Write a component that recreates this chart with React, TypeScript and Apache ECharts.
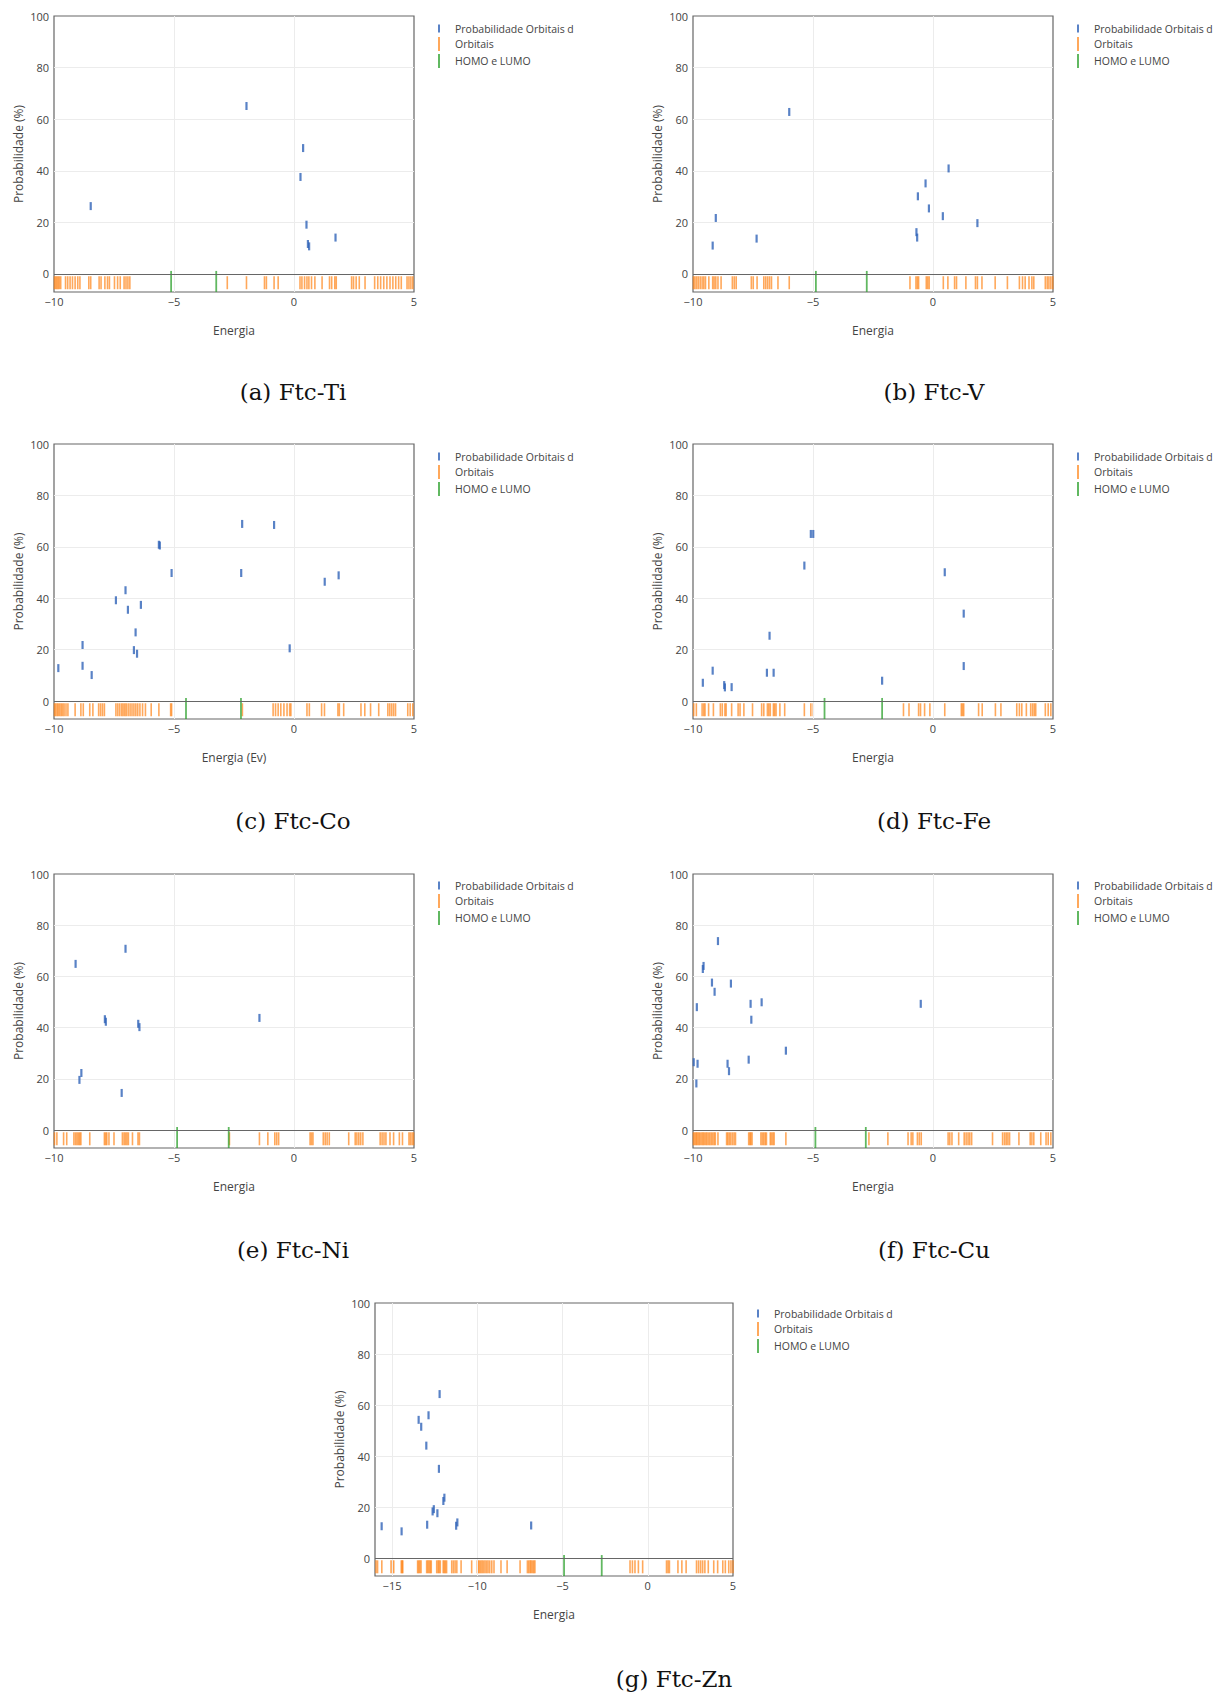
import React, { useEffect, useRef } from "react";
import * as echarts from "echarts";

// ---------- DATA ----------
const SERIES_D = "Probabilidade Orbitais d";
const SERIES_ORB = "Orbitais";
const SERIES_HL = "HOMO e LUMO";

const captions = ["(a) Ftc-Ti", "(b) Ftc-V", "(c) Ftc-Co", "(d) Ftc-Fe", "(e) Ftc-Ni", "(f) Ftc-Cu", "(g) Ftc-Zn"];
const xTitles = ["Energia", "Energia", "Energia (Ev)", "Energia", "Energia", "Energia", "Energia"];
const yTitle = "Probabilidade (%)";
const yTicks = [0, 20, 40, 60, 80, 100];
const xTicksStd = [-10, -5, 0, 5];
const xTicksZn = [-15, -10, -5, 0, 5];

// (a) Ti
const tiDx = [-8.47, -1.98, 0.38, 0.27, 0.52, 0.58, 0.63, 1.73];
const tiDy = [26.3, 65.1, 48.8, 37.6, 19.1, 11.6, 10.7, 14.1];
const tiOrb = [-9.98, -9.93, -9.88, -9.83, -9.78, -9.72, -9.52, -9.43, -9.33, -9.23, -9.12, -9.01, -8.92, -8.55, -8.47,
  -8.12, -8.04, -7.88, -7.77, -7.69, -7.48, -7.35, -7.24, -7.08, -7.0, -6.92, -6.84, -2.78, -1.98, -1.23, -1.15, -0.83, -0.66,
  0.25, 0.33, 0.44, 0.54, 0.62, 0.73, 0.87, 1.17, 1.48, 1.57, 1.7, 1.76, 2.4, 2.48, 2.59, 2.72, 2.96,
  3.36, 3.49, 3.61, 3.74, 3.87, 4.0, 4.12, 4.24, 4.36, 4.47, 4.71, 4.79, 4.87, 4.95];
const tiHL = [-5.12, -3.24];

// (b) V
const vDx = [-9.18, -9.05, -7.35, -5.99, -0.69, -0.66, -0.63, -0.31, -0.17, 0.41, 0.65, 1.85];
const vDy = [11.0, 21.7, 13.7, 62.8, 16.2, 14.1, 30.1, 35.1, 25.4, 22.4, 40.9, 19.7];
const vOrb = [-9.98, -9.92, -9.85, -9.78, -9.7, -9.62, -9.55, -9.48, -9.34, -9.18, -9.12, -9.05, -8.96, -8.83,
  -8.36, -8.28, -8.2, -7.57, -7.49, -7.33, -7.05, -6.97, -6.89, -6.81, -6.73, -6.46, -5.99,
  -0.96, -0.71, -0.65, -0.6, -0.28, -0.22, -0.16, 0.43, 0.62, 0.9, 0.98, 1.37, 1.77, 1.85, 2.04, 2.59, 3.1,
  3.6, 3.73, 3.84, 4.0, 4.12, 4.2, 4.68, 4.76, 4.83, 4.91, 4.99];
const vHL = [-4.88, -2.76];

// (c) Co
const coDx = [-9.82, -8.81, -8.81, -8.43, -7.42, -7.02, -6.92, -6.6, -6.67, -6.54, -6.38, -5.63, -5.59, -5.1, -2.16, -2.2, -0.83, -0.18, 1.28, 1.86];
const coDy = [12.8, 21.8, 13.7, 10.1, 39.2, 43.1, 35.5, 26.7, 19.8, 18.4, 37.4, 60.8, 60.5, 49.8, 68.9, 49.8, 68.5, 20.5, 46.4, 48.9];
const coOrb = [-9.98, -9.93, -9.87, -9.82, -9.76, -9.7, -9.64, -9.58, -9.5, -9.42, -9.12, -8.88, -8.78, -8.51, -8.38,
  -8.14, -8.06, -7.98, -7.9, -7.42, -7.34, -7.26, -7.18, -7.12, -7.05, -6.99, -6.91, -6.83, -6.75, -6.67, -6.59, -6.51,
  -6.42, -6.31, -6.19, -5.95, -5.63, -5.14, -5.1, -2.15, -0.87, -0.77, -0.66, -0.55, -0.42, -0.29, -0.18, -0.13,
  0.54, 0.64, 1.15, 1.27, 1.83, 1.89, 2.07, 2.79, 2.95, 3.19, 3.53, 3.91, 3.99, 4.07, 4.15, 4.23, 4.74, 4.84, 4.95];
const coHL = [-4.5, -2.21];

// (d) Fe
const feDx = [-9.59, -9.18, -8.7, -8.67, -8.39, -6.92, -6.64, -6.81, -5.36, -5.09, -4.99, -2.12, 0.49, 1.28, 1.28];
const feDy = [7.1, 11.8, 6.2, 5.3, 5.4, 11.0, 11.0, 25.4, 52.7, 65.0, 65.0, 7.9, 50.1, 34.0, 13.6];
const feOrb = [-9.97, -9.86, -9.62, -9.55, -9.5, -9.35, -9.15, -8.86, -8.78, -8.67, -8.62, -8.39, -8.12, -8.04, -7.88,
  -7.52, -7.14, -7.05, -6.9, -6.84, -6.78, -6.65, -6.6, -6.54, -6.38, -6.18, -5.36, -5.09, -4.99, -1.23, -1.0, -0.6,
  -0.52, -0.35, -0.13, 0.49, 1.18, 1.23, 1.28, 1.9, 2.05, 2.6, 2.83, 3.49, 3.6, 3.7, 3.89, 4.07, 4.15, 4.22, 4.28,
  4.68, 4.8, 4.91];
const feHL = [-4.52, -2.12];

// (e) Ni
const niDx = [-9.1, -8.94, -8.86, -7.88, -7.84, -7.18, -7.02, -6.49, -6.44, -1.44];
const niDy = [64.9, 19.6, 22.3, 43.3, 42.3, 14.5, 70.8, 41.5, 40.2, 43.8];
const niOrb = [-9.98, -9.88, -9.6, -9.47, -9.17, -9.1, -9.04, -8.98, -8.93, -8.88, -8.51, -7.9, -7.85, -7.8, -7.71,
  -7.5, -7.15, -7.08, -7.02, -6.96, -6.9, -6.73, -6.5, -6.44, -2.69, -1.44, -1.09, -0.8, -0.72, -0.64, 0.67, 0.73,
  0.79, 1.22, 1.3, 1.38, 1.47, 2.28, 2.55, 2.62, 2.7, 2.78, 2.87, 3.59, 3.67, 3.75, 3.83, 4.0, 4.15, 4.39, 4.52,
  4.79, 4.85, 4.92, 4.98];
const niHL = [-4.87, -2.72];

// (f) Cu
const cuDx = [-9.97, -9.84, -9.86, -9.81, -9.59, -9.56, -9.21, -9.1, -8.96, -8.56, -8.5, -8.42, -7.68, -7.6, -7.57, -7.14, -6.13, -0.51];
const cuDy = [26.5, 48.0, 18.2, 25.9, 62.9, 64.1, 57.6, 54.0, 73.8, 25.9, 23.0, 57.2, 27.5, 49.3, 43.1, 49.9, 31.0, 49.3];
const cuOrb = [-9.98, -9.93, -9.88, -9.84, -9.79, -9.74, -9.69, -9.63, -9.58, -9.53, -9.47, -9.42, -9.36, -9.3,
  -9.24, -9.18, -9.12, -9.07, -8.96, -8.6, -8.55, -8.49, -8.43, -8.36, -8.29, -8.23, -7.68, -7.63, -7.59, -7.54,
  -7.17, -7.11, -7.05, -6.99, -6.94, -6.78, -6.73, -6.67, -6.62, -6.13, -2.67, -1.88, -1.04, -0.91, -0.84, -0.65,
  -0.57, -0.49, 0.63, 0.7, 0.79, 1.07, 1.3, 1.38, 1.46, 1.53, 1.61, 2.48, 2.9, 2.98, 3.05, 3.12, 3.19, 3.58, 4.05,
  4.12, 4.2, 4.49, 4.71, 4.8, 4.91];
const cuHL = [-4.9, -2.8];

// (g) Zn
const znDx = [-15.61, -14.44, -13.44, -13.29, -12.86, -12.99, -12.94, -12.62, -12.55, -12.34, -12.21, -12.25, -11.99, -11.93, -11.24, -11.17, -6.84];
const znDy = [12.5, 10.5, 54.2, 51.5, 56.0, 44.1, 13.1, 18.3, 19.2, 17.6, 64.3, 35.0, 22.4, 23.7, 12.7, 14.0, 12.8];
const znOrb = [-15.94, -15.85, -15.6, -15.06, -14.97, -14.9, -14.46, -14.41, -14.37, -13.5, -13.44, -13.37, -13.3,
  -12.97, -12.9, -12.83, -12.76, -12.7, -12.38, -12.3, -12.24, -12.17, -12.0, -11.93, -11.87, -11.8, -11.5, -11.4,
  -11.3, -11.2, -10.95, -10.33, -10.0, -9.94, -9.88, -9.8, -9.72, -9.64, -9.55, -9.46, -9.37, -9.27, -9.15, -9.02,
  -8.61, -8.25, -7.49, -7.06, -6.98, -6.9, -6.84, -6.76, -6.69, -6.62, -1.04, -0.9, -0.75, -0.55, -0.3, 1.1, 1.19,
  1.27, 1.77, 2.0, 2.25, 2.86, 2.98, 3.1, 3.22, 3.35, 3.55, 3.87, 4.1, 4.4, 4.55, 4.75, 4.88, 5.0];
const znHL = [-4.91, -2.7];

// ---------- LAYOUT / STYLE ----------
const BLUE = "#2f63b8";
const ORANGE = "#ff7f0e";
const GREEN = "#2ca02c";
const FRAME = "#666";
const TXT = "#444";

const panels = [
  { dx: tiDx, dy: tiDy, orb: tiOrb, hl: tiHL, xmin: -10, xmax: 5, xt: xTicksStd, left: 54, top: 16, w: 360, h: 276, legL: 433, legT: 18, capX: 293, capY: 392 },
  { dx: vDx, dy: vDy, orb: vOrb, hl: vHL, xmin: -10, xmax: 5, xt: xTicksStd, left: 693, top: 16, w: 360, h: 276, legL: 1072, legT: 18, capX: 934, capY: 392 },
  { dx: coDx, dy: coDy, orb: coOrb, hl: coHL, xmin: -10, xmax: 5, xt: xTicksStd, left: 54, top: 444, w: 360, h: 275, legL: 433, legT: 446, capX: 293, capY: 821 },
  { dx: feDx, dy: feDy, orb: feOrb, hl: feHL, xmin: -10, xmax: 5, xt: xTicksStd, left: 693, top: 444, w: 360, h: 275, legL: 1072, legT: 446, capX: 934, capY: 821 },
  { dx: niDx, dy: niDy, orb: niOrb, hl: niHL, xmin: -10, xmax: 5, xt: xTicksStd, left: 54, top: 874, w: 360, h: 274, legL: 433, legT: 875, capX: 293, capY: 1250 },
  { dx: cuDx, dy: cuDy, orb: cuOrb, hl: cuHL, xmin: -10, xmax: 5, xt: xTicksStd, left: 693, top: 874, w: 360, h: 274, legL: 1072, legT: 875, capX: 934, capY: 1250 },
  { dx: znDx, dy: znDy, orb: znOrb, hl: znHL, xmin: -16, xmax: 5, xt: xTicksZn, left: 375, top: 1303, w: 358, h: 273, legL: 752, legT: 1303, capX: 674, capY: 1679 },
];

const YMIN = -7;
const YMAX = 100;
const ORB_Y = -3.4;
const HL_Y = -2.9;

function buildOption() {
  const grid: any[] = [];
  const xAxis: any[] = [];
  const yAxis: any[] = [];
  const series: any[] = [];
  const legend: any[] = [];
  const graphic: any[] = [];

  panels.forEach((p, i) => {
    grid.push({
      left: p.left, top: p.top, width: p.w, height: p.h,
      show: true, borderColor: FRAME, borderWidth: 1.2, backgroundColor: "transparent",
      containLabel: false, outerBoundsMode: "none",
    });
    xAxis.push({
      type: "value", gridIndex: i, min: p.xmin, max: p.xmax,
      name: xTitles[i], nameLocation: "middle", nameGap: 32,
      nameTextStyle: { color: TXT, fontSize: 12, fontFamily: "Open Sans" },
      axisLine: { show: false }, axisTick: { show: false }, splitLine: { show: false },
      axisLabel: {
        customValues: p.xt, color: TXT, fontSize: 11, margin: 4, fontFamily: "Open Sans",
        formatter: (v: number) => String(v).replace("-", "\u2212"),
      },
    });
    yAxis.push({
      type: "value", gridIndex: i, min: YMIN, max: YMAX,
      name: yTitle, nameLocation: "middle", nameGap: 30,
      nameTextStyle: { color: TXT, fontSize: 12, fontFamily: "Open Sans" },
      axisLine: { show: false }, axisTick: { show: false }, splitLine: { show: false },
      axisLabel: { customValues: yTicks, color: TXT, fontSize: 11, margin: 5, fontFamily: "Open Sans" },
    });
    const gridLines = [
      ...yTicks.filter((v) => v > 0 && v < YMAX).map((v) => ({ yAxis: v })),
      ...p.xt.filter((v) => v > p.xmin && v < p.xmax).map((v) => ({ xAxis: v })),
    ];
    series.push({
      type: "scatter", name: SERIES_D, xAxisIndex: i, yAxisIndex: i,
      data: p.dx.map((x, k) => [x, p.dy[k]]),
      symbol: "rect", symbolSize: [2.2, 8],
      itemStyle: { color: BLUE },
      z: 5,
      markLine: {
        silent: true, symbol: "none", label: { show: false }, animation: false,
        lineStyle: { color: "#ececec", width: 1, type: "solid" },
        data: [...gridLines, { yAxis: 0, lineStyle: { color: FRAME, width: 1.2, type: "solid" } }],
      },
    });
    series.push({
      type: "scatter", name: SERIES_ORB, xAxisIndex: i, yAxisIndex: i,
      data: p.orb.map((x) => [x, ORB_Y]),
      symbol: "rect", symbolSize: [1.6, 13],
      itemStyle: { color: ORANGE, opacity: 0.68 },
      z: 3,
    });
    series.push({
      type: "scatter", name: SERIES_HL, xAxisIndex: i, yAxisIndex: i,
      data: p.hl.map((x) => [x, HL_Y]),
      symbol: "rect", symbolSize: [1.8, 21], clip: false,
      itemStyle: { color: GREEN, opacity: 0.75 },
      z: 4,
    });
    legend.push({
      orient: "vertical", left: p.legL, top: p.legT,
      itemWidth: 2, itemHeight: 14, itemGap: 3,
      selectedMode: false,
      textStyle: { color: TXT, fontSize: 10.5, fontFamily: "Open Sans", padding: [0, 0, 0, 10] },
      data: [
        { name: SERIES_D, icon: "path://M0,3h2v8h-2z" },
        { name: SERIES_ORB, icon: "rect" },
        { name: SERIES_HL, icon: "rect" },
      ],
    });
    graphic.push({
      type: "text", x: p.capX, y: p.capY,
      style: {
        text: captions[i], fill: "#111", font: '23px "DejaVu Serif"',
        align: "center", verticalAlign: "middle",
      },
    });
  });

  return {
    animation: false,
    backgroundColor: "#fff",
    textStyle: { fontFamily: "Open Sans" },
    grid, xAxis, yAxis, series, legend, graphic,
  };
}

export default function App() {
  const ref = useRef<HTMLDivElement>(null);
  useEffect(() => {
    document.body.style.margin = "0";
    if (!ref.current) return;
    const chart = echarts.init(ref.current, undefined, { renderer: "svg" });
    chart.setOption(buildOption() as any);
    return () => chart.dispose();
  }, []);
  return <div ref={ref} style={{ width: 1213, height: 1695 }} />;
}
